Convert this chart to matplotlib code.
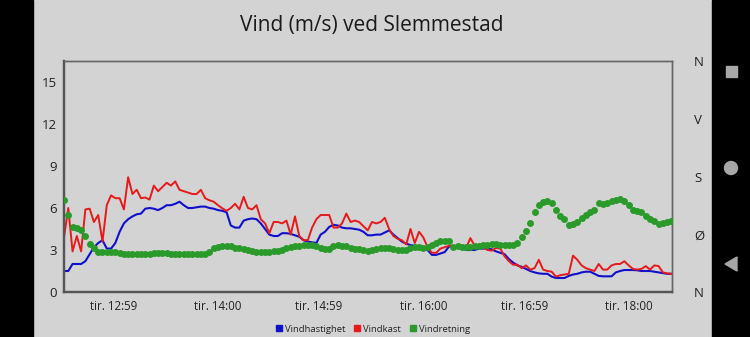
import numpy as np
import pandas as pd
import matplotlib
matplotlib.use("Agg")
import matplotlib.pyplot as plt
from matplotlib.patches import Rectangle, Ellipse, Polygon
from matplotlib.lines import Line2D

plt.rcParams['font.family'] = ['Open Sans', 'DejaVu Sans']

# målinger hvert 2,5 minutt fra 12:30
times = pd.date_range("2020-06-02 12:30", periods=143, freq="150s")

vindhastighet = [
    1.5, 1.5, 2.0, 2.0, 2.0, 2.2, 2.7, 3.2, 3.5, 3.7,
    3.1, 3.1, 3.5, 4.3, 4.9, 5.2, 5.4, 5.55, 5.6, 5.95,
    6.0, 5.95, 5.85, 6.0, 6.2, 6.2, 6.3, 6.45, 6.2, 6.0,
    6.0, 6.05, 6.1, 6.1, 6.0, 5.95, 5.85, 5.8, 5.7, 4.75,
    4.6, 4.6, 5.1, 5.2, 5.25, 5.2, 4.9, 4.5, 4.1, 4.0,
    4.0, 4.2, 4.2, 4.15, 4.05, 3.95, 3.7, 3.6, 3.55, 3.5,
    4.1, 4.3, 4.65, 4.8, 4.75, 4.6, 4.55, 4.55, 4.5, 4.45,
    4.3, 4.05, 4.05, 4.1, 4.1, 4.25, 4.4, 4.1, 3.85, 3.6,
    3.45, 3.35, 3.3, 3.25, 3.1, 3.0, 2.65, 2.65, 2.75, 2.85,
    3.25, 3.25, 3.2, 3.15, 3.0, 3.0, 3.0, 3.1, 3.1, 3.1,
    3.05, 2.9, 2.8, 2.7, 2.35, 2.1, 1.9, 1.8, 1.65, 1.5,
    1.4, 1.33, 1.3, 1.3, 1.1, 1.0, 1.0, 1.0, 1.15, 1.25,
    1.3, 1.4, 1.45, 1.45, 1.3, 1.15, 1.12, 1.12, 1.12, 1.4,
    1.5, 1.57, 1.57, 1.57, 1.55, 1.5, 1.5, 1.5, 1.45, 1.4,
    1.35, 1.3, 1.3,
]

vindkast = [
    3.9, 6.0, 2.9, 4.0, 2.9, 5.9, 5.95, 5.0, 5.5, 3.6,
    6.2, 6.9, 6.7, 6.7, 5.9, 8.2, 7.0, 7.3, 6.7, 6.75,
    6.6, 7.6, 7.2, 7.5, 7.8, 7.6, 7.9, 7.3, 7.2, 7.1,
    7.0, 7.0, 7.3, 6.7, 6.55, 6.45, 6.2, 5.98, 5.8, 6.0,
    6.3, 5.9, 6.8, 6.0, 5.9, 6.2, 5.2, 4.9, 4.2, 5.0,
    5.0, 4.9, 5.1, 4.1, 5.4, 4.0, 3.7, 3.7, 4.6, 5.2,
    5.5, 5.5, 5.5, 4.6, 4.6, 4.9, 5.6, 5.0, 5.1, 5.0,
    4.7, 4.4, 5.0, 4.9, 5.0, 5.3, 4.5, 4.0, 3.8, 3.7,
    3.4, 4.5, 3.5, 4.3, 3.9, 3.2, 2.8, 2.8, 3.1, 3.2,
    3.3, 3.3, 3.2, 3.2, 3.15, 3.85, 3.3, 3.2, 3.2, 3.0,
    2.95, 3.15, 3.1, 2.55, 2.2, 1.95, 1.95, 1.7, 1.9, 1.6,
    1.7, 2.3, 1.6, 1.5, 1.45, 1.1, 1.2, 1.25, 1.3, 2.6,
    2.3, 1.9, 1.7, 1.6, 1.5, 2.0, 1.6, 1.6, 1.9, 2.0,
    2.0, 2.2, 1.9, 1.65, 1.6, 1.65, 1.85, 1.6, 1.9, 1.85,
    1.4, 1.33, 1.3,
]

# grader, 0 = nord, 90 = øst
vindretning = [
    143, 120, 102, 99, 97, 88, 75, 68, 63, 62,
    62, 62, 62, 61, 60, 59, 59, 59, 59, 60,
    60, 61, 61, 61, 61, 60, 60, 60, 60, 60,
    60, 60, 60, 60, 63, 68, 70.6, 72, 72, 71,
    69, 68, 67, 65, 64, 63, 62, 62, 62, 64,
    64.5, 66, 69, 70.6, 71, 72.3, 73, 74, 73.5, 71,
    68, 67, 67, 72, 73, 72, 71, 69, 67.5, 66.5,
    65, 64, 65, 67, 68.5, 69, 68.5, 67, 65.5, 65.4,
    66, 68.5, 69.5, 70.6, 69, 70.6, 74, 77, 79, 80,
    80, 70.6, 71, 70.6, 70.6, 70.6, 71, 72, 73, 73.5,
    75.5, 75.5, 74, 73, 73, 73.5, 77, 86, 95, 108,
    124, 135, 141, 142, 138, 128, 119, 113, 104, 106,
    109, 116, 120, 124, 128, 138, 137, 139, 142, 144,
    145, 142, 135, 128, 126, 124, 118, 113, 110, 105.5,
    108, 109.5, 110,
]

tick_times = ["12:59", "14:00", "14:59", "16:00", "16:59", "18:00"]
retning_labels = ["N", "Ø", "S", "V", "N"]

bg = "#d3d3d3"
blue = "#1010cc"
red = "#e61a1a"
green = "#2a9a2a"

fig = plt.figure(figsize=(7.5, 3.37), dpi=100, facecolor=bg)

# svarte kanter og navigasjonsknapper
fig.patches.append(Rectangle((0, 0), 33 / 750, 1, transform=fig.transFigure,
                             color="black", zorder=0))
fig.patches.append(Rectangle((712 / 750, 0), 38 / 750, 1, transform=fig.transFigure,
                             color="black", zorder=0))
px = lambda x, y: (x / 750, 1 - y / 337)
nav = "#a8a8a8"
fig.patches.append(Rectangle(px(725.5, 77), 11 / 750, 11 / 337,
                             transform=fig.transFigure, color=nav))
fig.patches.append(Ellipse(px(731, 168), 13 / 750, 13 / 337,
                           transform=fig.transFigure, color=nav))
fig.patches.append(Polygon([px(725, 264), px(737, 257), px(737, 271)], closed=True,
                           transform=fig.transFigure, color=nav))

ax = fig.add_axes([64 / 750, 45 / 337, 608 / 750, 231 / 337])
ax.set_facecolor(bg)
ax2 = ax.twinx()

ax.plot(times, vindhastighet, color=blue, lw=1.5, zorder=3)
ax.plot(times, vindkast, color=red, lw=1.4, zorder=4)
ax2.plot(times, vindretning, linestyle="none", marker="o", markersize=5,
         color=green, markeredgewidth=0, zorder=5)

ax.set_ylim(0, 16.5)
ax.set_yticks([0, 3, 6, 9, 12, 15])
ax2.set_ylim(0, 360)
ax2.set_yticks([0, 90, 180, 270, 360])
ax2.set_yticklabels(retning_labels)

ax.set_xlim(times[0], pd.Timestamp("2020-06-02 18:25:20"))
ax.set_xticks([pd.Timestamp("2020-06-02 " + t) for t in tick_times])
ax.set_xticklabels(["tir. " + t for t in tick_times])

ax.tick_params(axis="both", length=0, labelsize=9.5, colors="#222222")
ax.tick_params(axis="x", pad=6, labelsize=8.3)
ax.tick_params(axis="y", pad=5)
ax2.tick_params(axis="y", length=0, labelsize=9.5, colors="#222222", pad=16)

for a in (ax, ax2):
    for side in ("top", "right"):
        a.spines[side].set_color("#666666")
        a.spines[side].set_linewidth(1.0)
    for side in ("left", "bottom"):
        a.spines[side].set_color("#555555")
        a.spines[side].set_linewidth(1.6)

fig.text(372 / 750, 1 - 25 / 337, "Vind (m/s) ved Slemmestad", ha="center", va="center",
         fontsize=15, color="#1a1a1a")

handles = [Line2D([], [], linestyle="none", marker="s", markersize=5, color=c)
           for c in (blue, red, green)]
fig.legend(handles, ["Vindhastighet", "Vindkast", "Vindretning"],
           loc="center", bbox_to_anchor=(372 / 750, 1 - 329 / 337), ncol=3,
           frameon=False, fontsize=6.8, handletextpad=0.1, columnspacing=0.8,
           handlelength=1.0, labelcolor="#222222")

fig.savefig("out.png", dpi=100, facecolor=bg)
